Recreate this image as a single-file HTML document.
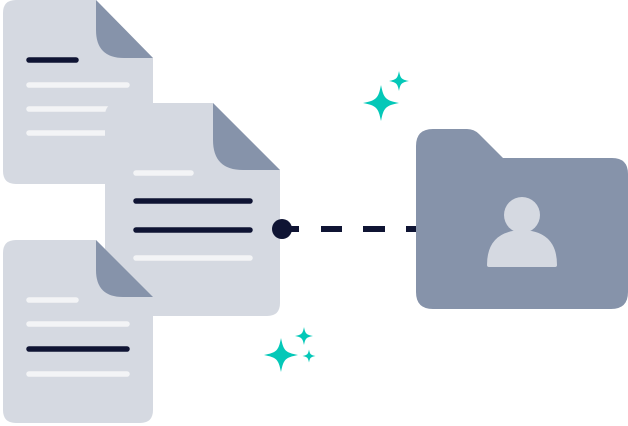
<!DOCTYPE html>
<html><head><style>html,body{margin:0;padding:0;background:#fff}svg{display:block}</style></head>
<body>
<svg width="628" height="426" viewBox="0 0 628 426" xmlns="http://www.w3.org/2000/svg">
<defs>
<path id="spk" d="M0,-1 C0.15,-0.25 0.25,-0.15 1,0 C0.25,0.15 0.15,0.25 0,1 C-0.15,0.25 -0.25,0.15 -1,0 C-0.25,-0.15 -0.15,-0.25 0,-1Z"/>
</defs>
<path d="M16,0 H96 L153,58 V184 H16 Q3,184 3,171 V13 Q3,0 16,0Z" fill="#d5d9e1"/>
<path d="M96,0 V30 Q96,58 124,58 H153Z" fill="#8693aa"/>
<g stroke-linecap="round" stroke-width="5.5">
<line x1="29" y1="60" x2="76" y2="60" stroke="#0f1433"/>
<line x1="29" y1="85" x2="127" y2="85" stroke="#f3f4f6"/>
<line x1="29" y1="109" x2="127" y2="109" stroke="#f3f4f6"/>
<line x1="29" y1="133" x2="127" y2="133" stroke="#f3f4f6"/>
</g>
<path d="M118,103 H213 L280,170 V303 Q280,316 267,316 H105 V116 Q105,103 118,103Z" fill="#d5d9e1"/>
<path d="M213,103 V140 Q213,170 243,170 H280Z" fill="#8693aa"/>
<g stroke-linecap="round" stroke-width="5.5">
<line x1="136" y1="173" x2="191" y2="173" stroke="#f3f4f6"/>
<line x1="136" y1="201" x2="250" y2="201" stroke="#0f1433"/>
<line x1="136" y1="230" x2="250" y2="230" stroke="#0f1433"/>
<line x1="136" y1="258" x2="250" y2="258" stroke="#f3f4f6"/>
</g>
<path d="M16,240 H96 L153,297 V410 Q153,423 140,423 H16 Q3,423 3,410 V253 Q3,240 16,240Z" fill="#d5d9e1"/>
<path d="M96,240 V270 Q96,297 123,297 H153Z" fill="#8693aa"/>
<g stroke-linecap="round" stroke-width="5.5">
<line x1="29" y1="300" x2="76" y2="300" stroke="#f3f4f6"/>
<line x1="29" y1="324" x2="127" y2="324" stroke="#f3f4f6"/>
<line x1="29" y1="349" x2="127" y2="349" stroke="#0f1433"/>
<line x1="29" y1="374" x2="127" y2="374" stroke="#f3f4f6"/>
</g>
<circle cx="282" cy="229" r="10" fill="#0f1433"/>
<g fill="#0f1433">
<rect x="290" y="226" width="9" height="6"/>
<rect x="321" y="226" width="21" height="6"/>
<rect x="363" y="226" width="22" height="6"/>
<rect x="406" y="226" width="12" height="6"/>
</g>
<path d="M433,129 H467 Q474,129 479,134 L503,158 H612 Q628,158 628,174 V292 Q628,309 611,309 H433 Q416,309 416,292 V146 Q416,129 433,129Z" fill="#8693aa"/>
<circle cx="522" cy="215" r="18" fill="#d5d9e1"/>
<path d="M487,265 Q487,231 522,230 Q557,231 557,265 Q557,267 555,267 H489 Q487,267 487,265Z" fill="#d5d9e1"/>
<g fill="#04c8b8">
<use href="#spk" transform="translate(381,103) scale(18)"/>
<use href="#spk" transform="translate(399,81) scale(10)"/>
<use href="#spk" transform="translate(281,355) scale(17)"/>
<use href="#spk" transform="translate(304,336) scale(9)"/>
<use href="#spk" transform="translate(309,356) scale(6.5)"/>
</g>
</svg>
</body></html>
